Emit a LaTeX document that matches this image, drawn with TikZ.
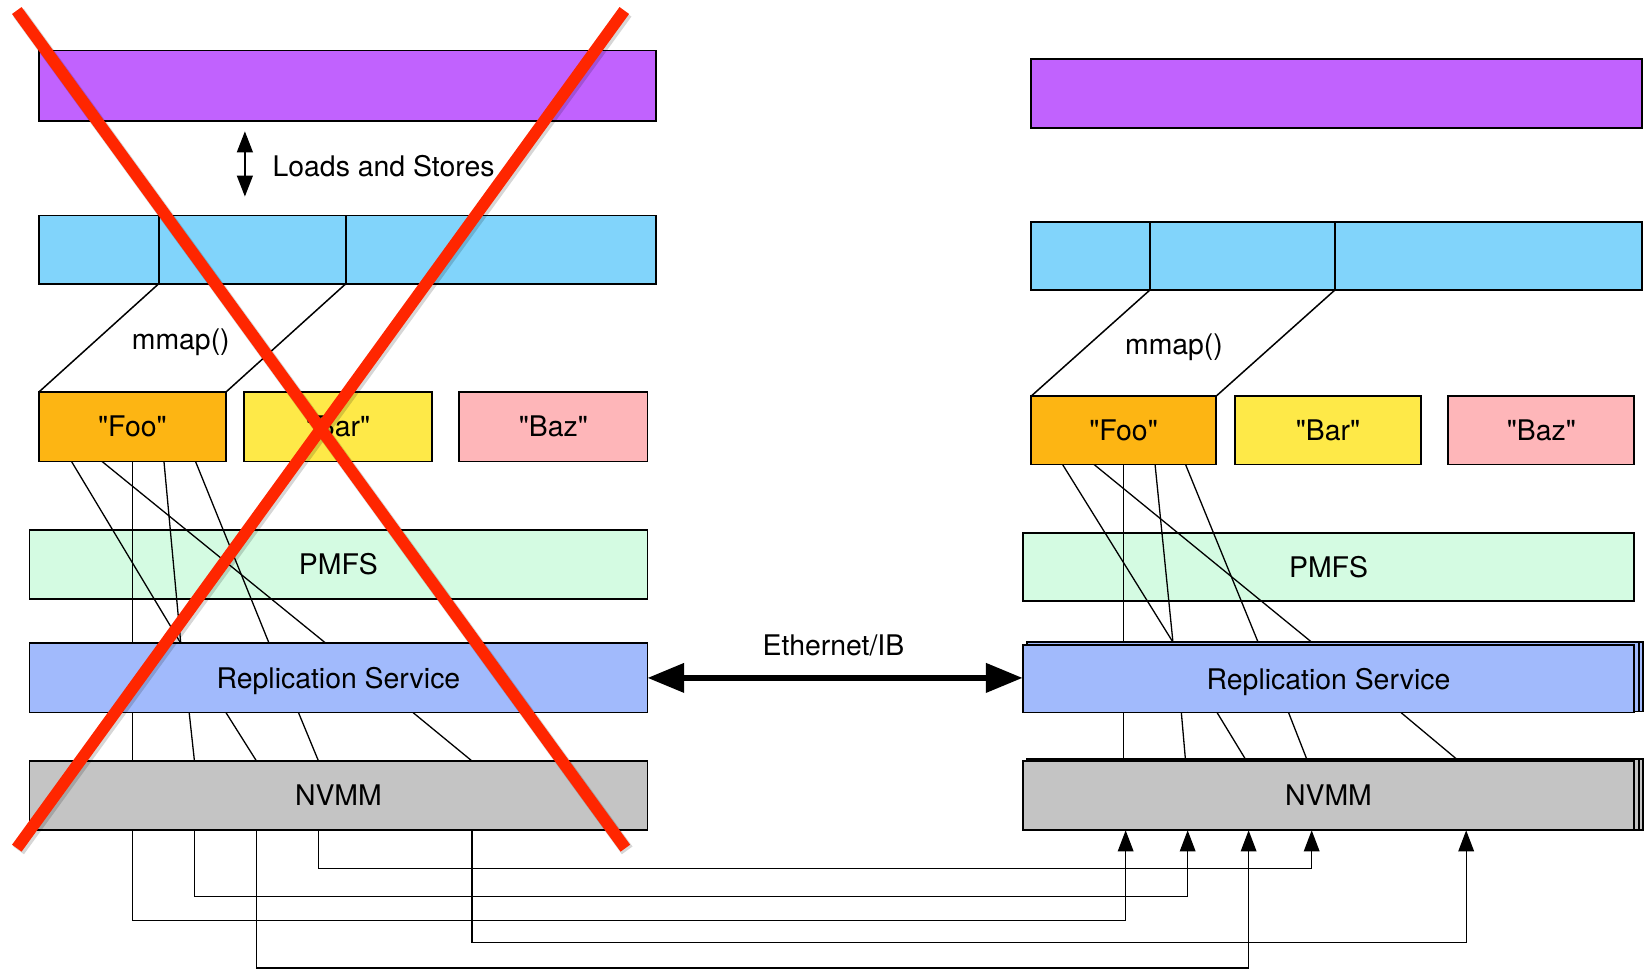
\documentclass[tikz,border=0pt]{standalone}
\usepackage{fontspec}
\newfontfamily\heros{TeX Gyre Heros}
\usetikzlibrary{arrows.meta}

% one drawing unit
\newdimen\pxu \pxu=0.5255pt

\definecolor{appviolet}{RGB}{193,98,254}
\definecolor{vmblue}{RGB}{129,212,251}
\definecolor{fooorange}{RGB}{253,181,19}
\definecolor{baryellow}{RGB}{254,233,72}
\definecolor{bazpink}{RGB}{254,182,185}
\definecolor{pmfsmint}{RGB}{212,251,226}
\definecolor{repblue}{RGB}{161,186,252}
\definecolor{nvmmgray}{RGB}{196,196,196}
\definecolor{crossred}{RGB}{255,38,0}

\pgfdeclarelayer{under}
\pgfdeclarelayer{wires}
\pgfsetlayers{under,wires,main}

\tikzset{
  box/.style={draw=black, line width=0.9pt, inner sep=0pt, outer sep=0pt, anchor=north west,
              text height=10.2pt, text depth=0pt},
  wire/.style={line width=0.65pt, black},
  hop/.style={wire, -{Triangle[length=10.5pt,width=7.8pt]}},
  both/.style={wire, {Triangle[length=10.5pt,width=8pt]}-{Triangle[length=10.5pt,width=8pt]}},
  ether/.style={line width=3pt, black, {Triangle[length=18.4pt,width=14.2pt]}-{Triangle[length=18.4pt,width=14.2pt]}},
  lbl/.style={inner sep=0pt, text height=10.2pt, text depth=0pt},
  crossout/.style={line width=5.9pt, crossred},
  crossshade/.style={line width=6.6pt, black, opacity=0.16}
}

\begin{document}
\begin{tikzpicture}[x=\pxu, y=-\pxu, font=\heros\fontsize{14.2}{17}\selectfont]
\useasboundingbox (0,0) rectangle (1568,923);

% ---------- left node ----------
\node[box, fill=appviolet, minimum width=587\pxu, minimum height=67\pxu] (purpleL) at (37,48) {};
\node[box, fill=vmblue, minimum width=587\pxu, minimum height=65\pxu] (blueL) at (37,205) {};
\draw[line width=0.9pt] (blueL.north -| 151,0) -- (blueL.south -| 151,0);
\draw[line width=0.9pt] (blueL.north -| 329,0) -- (blueL.south -| 329,0);

\node[box, fill=fooorange, minimum width=178\pxu, minimum height=66\pxu] (fooL) at (37,373) {"Foo"};
\node[box, fill=baryellow, minimum width=179\pxu, minimum height=66\pxu] (barL) at (232,373) {"Bar"};
\node[box, fill=bazpink, minimum width=179\pxu, minimum height=66\pxu] (bazL) at (437,373) {"Baz"};
\begin{pgfonlayer}{under}
  \node[box, fill=pmfsmint, minimum width=588\pxu, minimum height=66\pxu] (pmfsL) at (28,504) {PMFS};
\end{pgfonlayer}
\node[box, fill=repblue, minimum width=588\pxu, minimum height=66\pxu] (repL) at (28,612) {Replication Service};
\node[box, fill=nvmmgray, minimum width=588\pxu, minimum height=66\pxu] (nvmmL) at (28,724) {NVMM};

\draw[line width=0.75pt] (blueL.south -| 151,0) -- (fooL.north west);
\draw[line width=0.75pt] (blueL.south -| 329,0) -- (fooL.north east);
\node[lbl] (mmapL) at (172,323) {mmap()};

\coordinate (lsTop) at (233,125);
\coordinate (lsBot) at (233,187);
\draw[both] (lsTop) -- (lsBot);
\node[lbl, anchor=west] (lsText) at (259,158) {Loads and Stores};

% ---------- right node ----------
\node[box, fill=appviolet, minimum width=581\pxu, minimum height=66\pxu] (purpleR) at (981,56) {};
\node[box, fill=vmblue, minimum width=581\pxu, minimum height=65\pxu] (blueR) at (981,211) {};
\draw[line width=0.9pt] (blueR.north -| 1094,0) -- (blueR.south -| 1094,0);
\draw[line width=0.9pt] (blueR.north -| 1270,0) -- (blueR.south -| 1270,0);

\node[box, fill=fooorange, minimum width=176\pxu, minimum height=65\pxu] (fooR) at (981,377) {"Foo"};
\node[box, fill=baryellow, minimum width=177\pxu, minimum height=65\pxu] (barR) at (1175,377) {"Bar"};
\node[box, fill=bazpink, minimum width=177\pxu, minimum height=65\pxu] (bazR) at (1378,377) {"Baz"};
\begin{pgfonlayer}{under}
  \node[box, fill=pmfsmint, minimum width=582\pxu, minimum height=65\pxu] (pmfsR) at (973,507) {PMFS};
\end{pgfonlayer}

% stacked replicas behind the service and memory layers
\node[box, fill=repblue, minimum width=582\pxu, minimum height=66\pxu] (repRc) at (981.5,611) {};
\node[box, fill=repblue, minimum width=582\pxu, minimum height=66\pxu] (repRb) at (977.5,611) {};
\node[box, fill=repblue, minimum width=582\pxu, minimum height=64\pxu] (repR) at (973,614) {Replication Service};
\node[box, fill=nvmmgray, minimum width=582\pxu, minimum height=67.5\pxu] (nvmmRc) at (981.5,722.3) {};
\node[box, fill=nvmmgray, minimum width=582\pxu, minimum height=67.5\pxu] (nvmmRb) at (977.5,722.3) {};
\node[box, fill=nvmmgray, minimum width=582\pxu, minimum height=66\pxu] (nvmmR) at (973,724) {NVMM};

\draw[line width=0.75pt] (blueR.south -| 1094,0) -- (fooR.north west);
\draw[line width=0.75pt] (blueR.south -| 1270,0) -- (fooR.north east);
\node[lbl] (mmapR) at (1117,328) {mmap()};

% ---------- network link ----------
\draw[ether] (repL.east) -- (repR.west |- repL.east);
\node[lbl] (ethText) at (793,614) {Ethernet/IB};

% ---------- wiring: over the file system, under the service and memory ----------
\begin{pgfonlayer}{wires}
  \draw[wire] (fooL.south -| 68,0)  -- (repL.north -| 172,0);
  \draw[wire] (fooL.south -| 97,0)  -- (repL.north -| 310,0);
  \draw[wire] (fooL.south -| 126,0) -- (nvmmL.north -| 126,0);
  \draw[wire] (fooL.south -| 156,0) -- (repL.north -| 172,0);
  \draw[wire] (fooL.south -| 186,0) -- (repL.north -| 256,0);
  \draw[wire] (repL.south -| 180,0) -- (nvmmL.north -| 185,0);
  \draw[wire] (repL.south -| 215,0) -- (nvmmL.north -| 244,0);
  \draw[wire] (repL.south -| 284,0) -- (nvmmL.north -| 303,0);
  \draw[wire] (repL.south -| 393,0) -- (nvmmL.north -| 449,0);

  \draw[wire] (fooR.south -| 1011,0) -- (repRb.north -| 1116,0);
  \draw[wire] (fooR.south -| 1041,0) -- (repRb.north -| 1248,0);
  \draw[wire] (fooR.south -| 1069,0) -- (nvmmR.north -| 1069,0);
  \draw[wire] (fooR.south -| 1099,0) -- (repRb.north -| 1116,0);
  \draw[wire] (fooR.south -| 1128,0) -- (repRb.north -| 1197,0);
  \draw[wire] (repR.south -| 1124,0) -- (nvmmR.north -| 1128,0);
  \draw[wire] (repR.south -| 1158,0) -- (nvmmR.north -| 1186,0);
  \draw[wire] (repR.south -| 1226,0) -- (nvmmR.north -| 1244,0);
  \draw[wire] (repR.south -| 1333,0) -- (nvmmR.north -| 1388,0);
\end{pgfonlayer}

% ---------- replication paths between memories ----------
\draw[hop] (nvmmL.south -| 303,0) -- (303,826) -- (1248,826) -- (nvmmR.south -| 1248,0);
\draw[hop] (nvmmL.south -| 185,0) -- (185,853) -- (1130,853) -- (nvmmR.south -| 1130,0);
\draw[hop] (nvmmL.south -| 126,0) -- (126,876) -- (1071,876) -- (nvmmR.south -| 1071,0);
\draw[hop] (nvmmL.south -| 449,0) -- (449,897) -- (1395,897) -- (nvmmR.south -| 1395,0);
\draw[hop] (nvmmL.south -| 244,0) -- (244,921) -- (1188,921) -- (nvmmR.south -| 1188,0);

% ---------- crossed-out stack ----------
\coordinate (xa) at (16,10);
\coordinate (xb) at (595,807);
\coordinate (xc) at (594,10);
\coordinate (xd) at (16,807);
\begin{scope}[transform canvas={shift={(0.9pt,-1.1pt)}}]
  \draw[crossshade] (xa) -- (xb);
  \draw[crossshade] (xc) -- (xd);
\end{scope}
\draw[crossout] (xa) -- (xb);
\draw[crossout] (xc) -- (xd);
\end{tikzpicture}
\end{document}
